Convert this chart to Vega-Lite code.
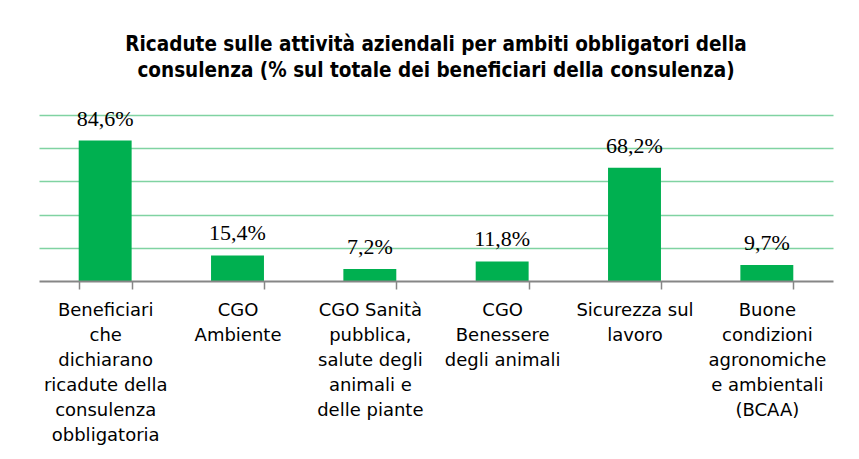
{
  "$schema": "https://vega.github.io/schema/vega-lite/v6.json",
  "width": 794,
  "height": 166,
  "autosize": {"type": "none"},
  "padding": {"left": 39, "top": 115, "right": 26, "bottom": 178},
  "background": "white",
  "config": {
    "view": {"stroke": null},
    "locale": {"number": {"decimal": ",", "thousands": ".", "grouping": [3], "currency": ["€", ""]}}
  },
  "title": {
    "text": ["Ricadute sulle attività aziendali per ambiti  obbligatori della", "consulenza (% sul totale dei beneficiari della consulenza)"],
    "font": "DejaVu Sans Condensed",
    "fontSize": 20.5,
    "fontWeight": "bold",
    "color": "#000000",
    "lineHeight": 26,
    "anchor": "middle",
    "offset": 26
  },
  "data": {
    "values": [
      {"cat": "Beneficiari|che|dichiarano|ricadute della|consulenza|obbligatoria", "v": 0.846},
      {"cat": "CGO|Ambiente", "v": 0.154},
      {"cat": "CGO Sanità|pubblica,|salute degli|animali e|delle piante", "v": 0.072},
      {"cat": "CGO|Benessere|degli animali", "v": 0.118},
      {"cat": "Sicurezza sul|lavoro", "v": 0.682},
      {"cat": "Buone|condizioni|agronomiche|e ambientali|(BCAA)", "v": 0.097}
    ]
  },
  "encoding": {
    "x": {
      "field": "cat",
      "type": "nominal",
      "sort": null,
      "scale": {"paddingInner": 0.6, "paddingOuter": 0.3},
      "axis": {
        "title": null,
        "labelAngle": 0,
        "labelExpr": "split(datum.label, '|')",
        "labelFont": "DejaVu Sans",
        "labelFontSize": 18,
        "labelLineHeight": 25,
        "labelColor": "#000000",
        "labelLimit": 0,
        "labelPadding": 12,
        "labelBaseline": "top",
        "tickBand": "extent",
        "tickSize": 8,
        "tickColor": "#868686",
        "tickWidth": 1.5,
        "domainColor": "#868686",
        "domainWidth": 2,
        "zindex": 1
      }
    },
    "y": {
      "field": "v",
      "type": "quantitative",
      "scale": {"domain": [0, 1]},
      "axis": {
        "title": null,
        "labels": false,
        "ticks": false,
        "domain": false,
        "values": [0.2, 0.4, 0.6, 0.8, 1.0],
        "gridColor": "#80D3A2",
        "gridWidth": 1.5
      }
    }
  },
  "layer": [
    {"mark": {"type": "bar", "color": "#00B050"}},
    {
      "mark": {"type": "text", "font": "Liberation Serif", "fontSize": 22, "baseline": "alphabetic", "dy": -15, "color": "#000000"},
      "encoding": {"text": {"field": "v", "type": "quantitative", "format": ".1%"}}
    }
  ]
}
